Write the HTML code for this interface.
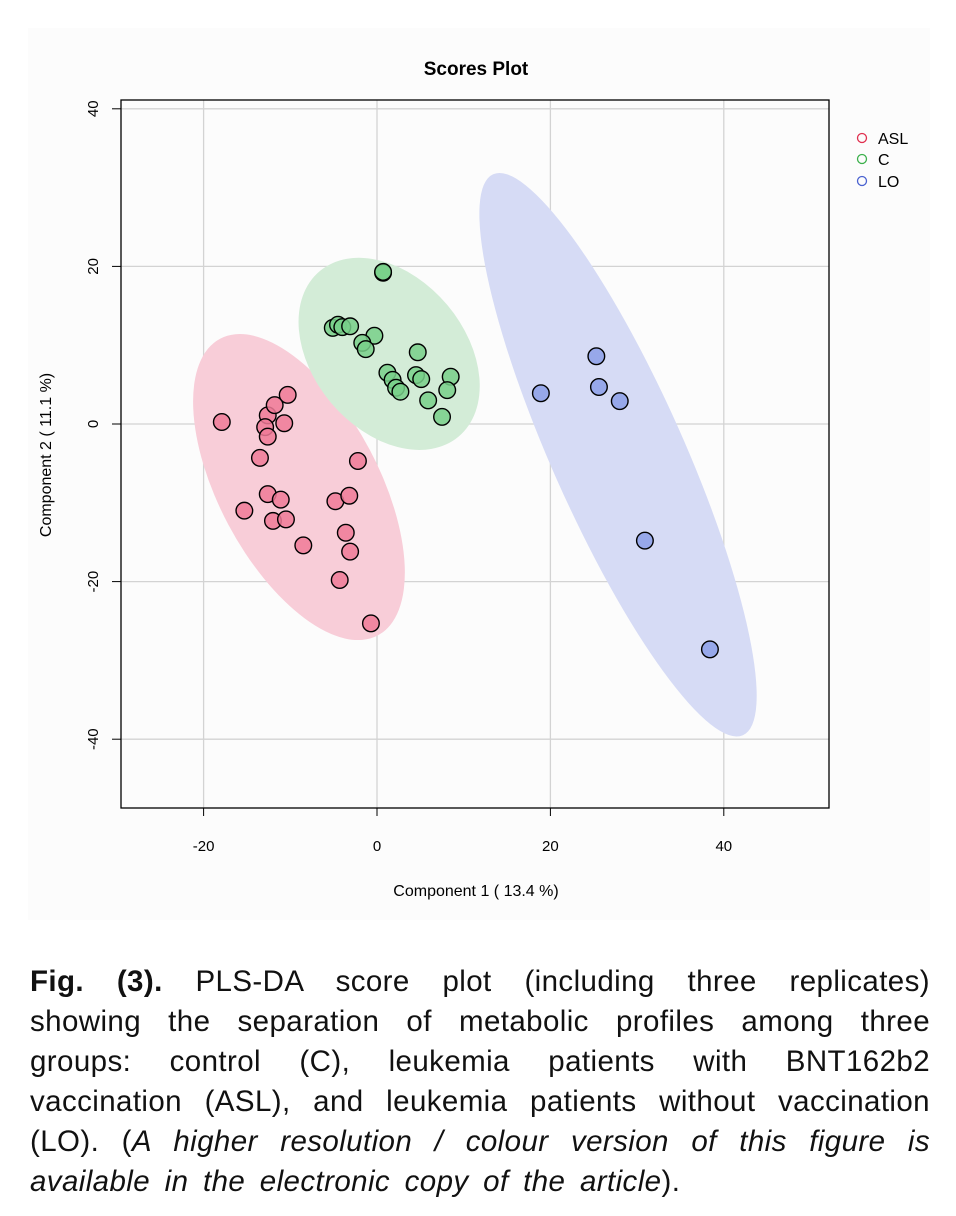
<!DOCTYPE html>
<html><head><meta charset="utf-8">
<style>
body{margin:0;background:#fff;width:956px;height:1216px;overflow:hidden;font-family:"Liberation Sans",sans-serif;}
#cap{position:absolute;left:30px;top:962px;width:900px;font-size:29.5px;line-height:40px;color:#111;letter-spacing:0.4px;word-spacing:6px;}
#cap div{text-align:justify;text-align-last:justify;white-space:nowrap;}
#cap div.last{text-align-last:left;}
</style></head><body>
<svg id="chart" width="956" height="940" style="position:absolute;left:0;top:0" xmlns="http://www.w3.org/2000/svg">
<rect x="28" y="28" width="902" height="892" fill="#fcfcfc"/>
<text x="476" y="75" text-anchor="middle" font-size="19" font-weight="bold" font-family="Liberation Sans">Scores Plot</text>
<g id="grid"></g><g id="ells"></g><g id="pts"></g><g id="axes"></g>
<g font-family="Liberation Sans" font-size="16">
<circle cx="862" cy="138" r="4.5" fill="none" stroke="#e0304f" stroke-width="1.3"/><text x="878" y="144">ASL</text>
<circle cx="862" cy="159" r="4.5" fill="none" stroke="#3cb04c" stroke-width="1.3"/><text x="878" y="165">C</text>
<circle cx="862" cy="181" r="4.5" fill="none" stroke="#4a62d0" stroke-width="1.3"/><text x="878" y="187">LO</text>
</g>
<text x="476" y="896" text-anchor="middle" font-size="16" font-family="Liberation Sans">Component 1 ( 13.4 %)</text>
<text transform="translate(51,455) rotate(-90)" text-anchor="middle" font-size="16" font-family="Liberation Sans">Component 2 ( 11.1 %)</text>
</svg>
<div id="cap">
<div><b>Fig. (3).</b> PLS-DA score plot (including three replicates)</div>
<div>showing the separation of metabolic profiles among three</div>
<div>groups: control (C), leukemia patients with BNT162b2</div>
<div>vaccination (ASL), and leukemia patients without vaccination</div>
<div>(LO). (<i>A higher resolution / colour version of this figure is</i></div>
<div class="last"><i>available in the electronic copy of the article</i>).</div>
</div>
<script>
const xTicks=[-20,0,20,40];
const yTicks=[-40,-20,0,20,40];
const aslX=[-17.9,-12.6,-11.8,-10.3,-12.9,-12.6,-10.7,-13.5,-2.2,-12.6,-11.1,-15.3,-12.0,-10.5,-4.8,-3.2,-8.5,-3.6,-3.1,-4.3,-0.7];
const aslY=[0.25,1.1,2.4,3.7,-0.4,-1.6,0.1,-4.3,-4.7,-8.9,-9.6,-11.0,-12.3,-12.1,-9.8,-9.1,-15.4,-13.8,-16.2,-19.8,-25.3];
const cX=[0.7,0.7,-5.1,-4.5,-4.0,-3.1,-0.3,-1.7,-1.3,4.7,1.2,1.8,2.2,2.7,4.5,5.1,8.5,8.1,5.9,7.5];
const cY=[19.2,19.3,12.2,12.6,12.3,12.4,11.2,10.3,9.5,9.1,6.5,5.6,4.6,4.1,6.2,5.7,6.0,4.3,3.0,0.9];
const loX=[18.9,25.3,25.6,28.0,30.9,38.4];
const loY=[3.9,8.6,4.7,2.9,-14.8,-28.6];
const X=v=>377+v*8.67, Y=v=>424-v*7.88;
const NS="http://www.w3.org/2000/svg";
function mk(t,a,p){const e=document.createElementNS(NS,t);for(const k in a)e.setAttribute(k,a[k]);p.appendChild(e);return e;}
const grid=document.getElementById('grid'),axes=document.getElementById('axes'),ells=document.getElementById('ells'),pts=document.getElementById('pts');
xTicks.forEach(t=>{const l=mk('line',{x1:X(t),x2:X(t),y1:100,y2:808,stroke:'#d3d3d3','stroke-width':1.3},grid);


mk('line',{x1:X(t),x2:X(t),y1:808,y2:816,stroke:'#000'},axes);
const tx=mk('text',{x:X(t),y:851,'text-anchor':'middle','font-size':15,'font-family':'Liberation Sans'},axes);tx.textContent=t;

});
yTicks.forEach(t=>{const l=mk('line',{x1:121,x2:829,y1:Y(t),y2:Y(t),stroke:'#d3d3d3','stroke-width':1.3},grid);


mk('line',{x1:112,x2:121,y1:Y(t),y2:Y(t),stroke:'#000'},axes);
const tx=mk('text',{transform:`translate(98,${Y(t)}) rotate(-90)`,'text-anchor':'middle','font-size':15,'font-family':'Liberation Sans'},axes);tx.textContent=t;

});
const box=mk('rect',{x:121,y:100,width:708,height:708,fill:'none',stroke:'#000','stroke-width':1.3},axes);


const ellCX=[-9.0,1.4,27.8], ellCY=[-8.0,8.9,-3.9];
const ellRX=[168,108,307], ellRY=[80,76,66], ellA=[62,50,66];
const ellFill=['#f8cdd8','#d3ecd7','#d6dbf5'], ellName=['asl-ellipse','c-ellipse','lo-ellipse'];
for(let i=0;i<3;i++){const e=mk('ellipse',{cx:0,cy:0,rx:ellRX[i],ry:ellRY[i],fill:ellFill[i],transform:`translate(${X(ellCX[i])},${Y(ellCY[i])}) rotate(${ellA[i]})`},ells);

}
function series(xs,ys,fill,name){xs.forEach((v,i)=>{const c=mk('circle',{cx:X(v),cy:Y(ys[i]),r:8.3,fill:fill,'fill-opacity':0.85,stroke:'#000','stroke-width':1.4},pts);

});}
series(aslX,aslY,'#f07a98','asl-point');
series(cX,cY,'#78d08a','c-point');
series(loX,loY,'#8c9fe8','lo-point');
</script>
</body></html>
